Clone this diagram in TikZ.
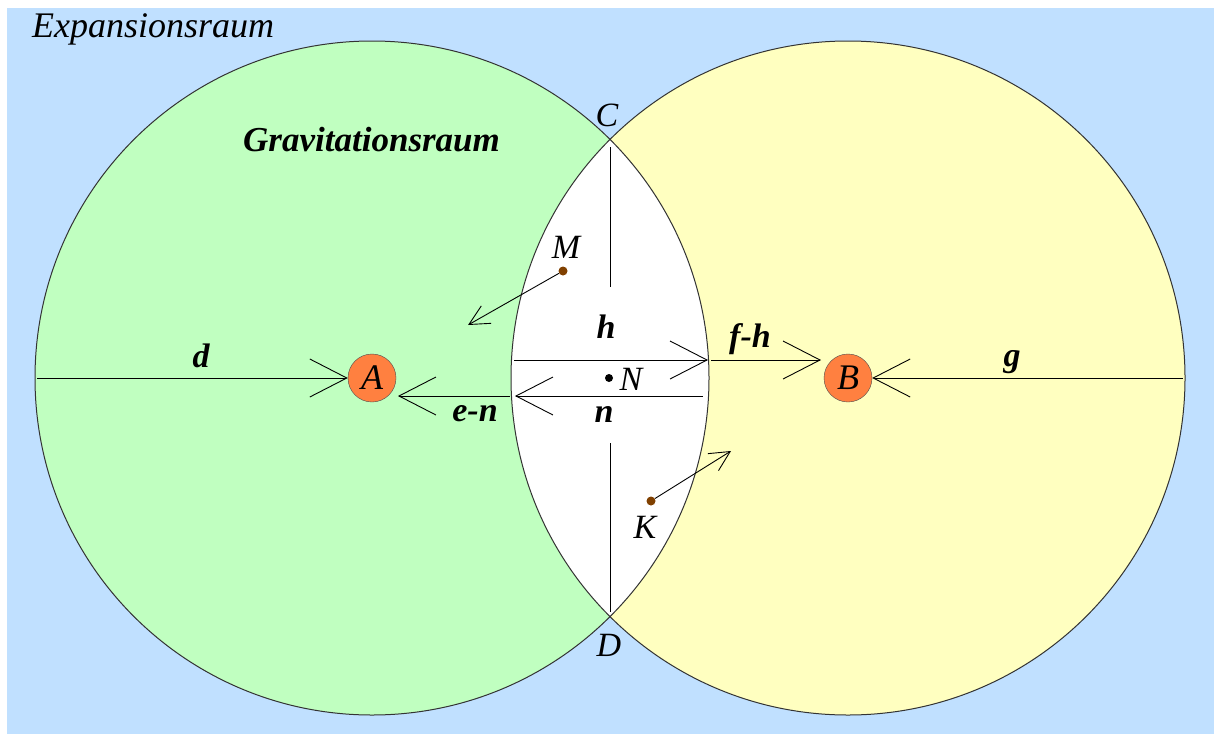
\documentclass[tikz,border=0pt]{standalone}
\usepackage{fontspec}
\setmainfont{Liberation Serif}
\usetikzlibrary{arrows.meta}

\definecolor{expblue}{RGB}{192,224,255}
\definecolor{gravgreen}{RGB}{192,255,192}
\definecolor{gravyellow}{RGB}{255,255,192}
\definecolor{massorange}{RGB}{255,128,64}
\definecolor{spotbrown}{RGB}{128,64,0}

\begin{document}
\begin{tikzpicture}[x=1pt, y=-1pt,
    lbl/.style={font=\fontsize{34}{38}\selectfont\itshape, inner sep=0pt},
    len/.style={font=\fontsize{34}{38}\selectfont\bfseries\itshape, inner sep=0pt},
    mass/.style={circle, draw=black!70, fill=massorange, minimum size=48pt,
      inner sep=0pt, font=\fontsize{36}{40}\selectfont\itshape},
    spot/.style={circle, fill=spotbrown, minimum size=9pt, inner sep=0pt},
    pull/.style={-{Straight Barb[length=37pt,width=38pt]}, line width=0.9pt},
    drift/.style={-{Straight Barb[length=20pt,width=20pt]}, line width=0.9pt},
    rim/.style={draw=black!80, line width=1pt}]
  \useasboundingbox (0,0) rectangle (1214,734);
  % Expansion space
  \fill[expblue] (7,8) rectangle (1214,734);
  \node[lbl, anchor=base west] (expansion) at (32,37)
    {\fontsize{36}{40}\selectfont Expansionsraum};
  % gravitation spaces
  \fill[gravgreen] (372,378) circle[radius=337];
  \fill[gravyellow] (848,378) circle[radius=337];
  \begin{scope}
    \clip (372,378) circle[radius=337];
    \fill[white] (848,378) circle[radius=337];
  \end{scope}
  \draw[rim] (372,378) circle[radius=337];
  \draw[rim] (848,378) circle[radius=337];
  \node[len, anchor=base west] (gravitation) at (243,151)
    {\fontsize{35}{40}\selectfont Gravitationsraum};
  % masses
  \node[mass] (A) at (372,378) {A};
  \node[mass] (B) at (848,378) {B};
  % intersection points
  \node[lbl] (C) at (607,115) {C};
  \node[lbl] (D) at (609,645) {D};
  \coordinate (ctop) at (610,147);
  \coordinate (cbot) at (610,287);
  \coordinate (dtop) at (610,443);
  \coordinate (dbot) at (610,612);
  \draw[line width=0.9pt] (ctop) -- (cbot);
  \draw[line width=0.9pt] (dtop) -- (dbot);
  % centre of the lens
  \node[circle, fill=black, minimum size=8pt, inner sep=0pt] (Ndot) at (609,378) {};
  \node[lbl] (N) at (631,379) {N};
  % radial pulls
  \coordinate (dstart) at (37,378);
  \coordinate (gstart) at (1183,378);
  \draw[pull] (dstart) -- (A.west);
  \draw[pull] (gstart) -- (B.east);
  \node[len] (d) at (201,356) {d};
  \node[len] (g) at (1012,362) {g};
  % pulls across the lens
  \coordinate (hstart) at (514,360);
  \coordinate (hend) at (708,360);
  \coordinate (fhstart) at (711,360);
  \coordinate (fhend) at (821,360);
  \coordinate (nstart) at (703,396);
  \coordinate (nend) at (515,396);
  \coordinate (enstart) at (510,396);
  \coordinate (enend) at (398,396);
  \draw[pull] (hstart) -- (hend);
  \draw[pull] (fhstart) -- (fhend);
  \draw[pull] (nstart) -- (nend);
  \draw[pull] (enstart) -- (enend);
  \node[len] (h) at (606,327) {h};
  \node[len] (fh) at (750,339) {f-h};
  \node[len] (n) at (604,414) {n};
  \node[len] (en) at (475,414) {e-n};
  % test bodies
  \node[spot] (Mdot) at (563,271) {};
  \node[lbl] (M) at (566,247) {M};
  \coordinate (Mgo) at (468,325);
  \draw[drift] (Mdot) -- (Mgo);
  \node[spot] (Kdot) at (651,501) {};
  \node[lbl] (K) at (645,527) {K};
  \coordinate (Kgo) at (731,451);
  \draw[drift] (Kdot) -- (Kgo);
\end{tikzpicture}
\end{document}
